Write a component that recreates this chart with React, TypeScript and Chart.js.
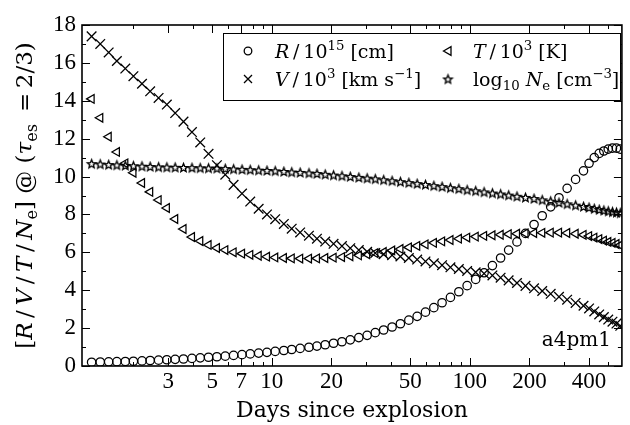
import React, { useEffect, useRef } from 'react';
import { Chart, registerables } from 'chart.js';

Chart.register(...registerables);

// ---- data ----
const DAYS = [
  1.23, 1.36, 1.5, 1.65, 1.82, 2.0, 2.21, 2.43, 2.68, 2.95,
  3.25, 3.58, 3.95, 4.35, 4.79, 5.28, 5.82, 6.41, 7.07, 7.78,
  8.58, 9.45, 10.4, 11.5, 12.6, 13.9, 15.4, 16.9, 18.6, 20.5,
  22.6, 24.9, 27.5, 30.3, 33.3, 36.7, 40.5, 44.6, 49.2, 54.2,
  59.7, 65.8, 72.4, 79.8, 88.0, 96.9, 107, 118, 130, 143,
  157, 173, 191, 211, 232, 256, 282, 310, 342, 375,
  400, 425, 450, 475, 500, 525, 550, 575,
];

const R_15 = [
  0.2, 0.21, 0.22, 0.23, 0.24, 0.25, 0.27, 0.29, 0.31, 0.33,
  0.35, 0.37, 0.4, 0.43, 0.46, 0.49, 0.52, 0.56, 0.6, 0.64,
  0.68, 0.72, 0.77, 0.82, 0.87, 0.93, 0.99, 1.05, 1.12, 1.2,
  1.28, 1.38, 1.5, 1.62, 1.76, 1.9, 2.06, 2.23, 2.42, 2.62,
  2.84, 3.08, 3.34, 3.62, 3.92, 4.24, 4.57, 4.92, 5.3, 5.7,
  6.12, 6.55, 7.0, 7.47, 7.93, 8.4, 8.88, 9.38, 9.85, 10.3,
  10.7, 11.0, 11.22, 11.35, 11.45, 11.5, 11.5, 11.45,
];

const V_3 = [
  17.4, 17.0, 16.55, 16.1, 15.7, 15.3, 14.9, 14.5, 14.15, 13.8,
  13.35, 12.9, 12.35, 11.8, 11.2, 10.6, 10.1, 9.56, 9.1, 8.68,
  8.3, 8.0, 7.75, 7.5, 7.25, 7.05, 6.88, 6.72, 6.57, 6.45,
  6.33, 6.22, 6.12, 6.03, 5.96, 5.9, 5.85, 5.78, 5.7, 5.62,
  5.52, 5.42, 5.32, 5.21, 5.12, 5.02, 4.95, 4.88, 4.78, 4.66,
  4.52, 4.38, 4.23, 4.1, 3.96, 3.81, 3.65, 3.5, 3.33, 3.18,
  3.04, 2.88, 2.72, 2.58, 2.45, 2.34, 2.24, 2.12,
];

const T_3 = [
  14.1, 13.1, 12.1, 11.3, 10.7, 10.2, 9.66, 9.19, 8.76, 8.34,
  7.76, 7.23, 6.81, 6.6, 6.39, 6.23, 6.12, 6.0, 5.93, 5.87,
  5.82, 5.77, 5.73, 5.7, 5.68, 5.67, 5.67, 5.68, 5.7, 5.72,
  5.75, 5.79, 5.84, 5.9, 5.96, 6.02, 6.1, 6.18, 6.26, 6.34,
  6.42, 6.5, 6.58, 6.65, 6.72, 6.78, 6.83, 6.87, 6.9, 6.93,
  6.96, 6.98, 7.0, 7.02, 7.03, 7.04, 7.04, 7.02, 6.98, 6.92,
  6.86, 6.78, 6.7, 6.62, 6.55, 6.5, 6.44, 6.38,
];

const LOG_NE = [
  10.68, 10.66, 10.63, 10.61, 10.59, 10.57, 10.55, 10.53, 10.51, 10.5,
  10.49, 10.48, 10.47, 10.46, 10.45, 10.44, 10.42, 10.4, 10.38, 10.36,
  10.34, 10.32, 10.3, 10.27, 10.24, 10.22, 10.19, 10.16, 10.12, 10.08,
  10.04, 10.0, 9.96, 9.92, 9.88, 9.83, 9.78, 9.73, 9.68, 9.63,
  9.58, 9.52, 9.47, 9.41, 9.36, 9.3, 9.25, 9.19, 9.13, 9.08,
  9.02, 8.96, 8.9, 8.84, 8.77, 8.7, 8.63, 8.56, 8.49, 8.42,
  8.37, 8.31, 8.26, 8.22, 8.18, 8.14, 8.11, 8.08,
];

const X_LABEL_TICKS = [3, 5, 7, 10, 20, 50, 100, 200, 400];
const X_MINOR_TICKS = [2, 4, 6, 8, 9, 30, 40, 60, 70, 80, 90, 300, 500];
const Y_MAJOR_TICKS = [0, 2, 4, 6, 8, 10, 12, 14, 16, 18];
const Y_MINOR_TICKS = [1, 3, 5, 7, 9, 11, 13, 15, 17];

const X_MIN = 1.1;
const X_MAX = 586;
const Y_MIN = 0;
const Y_MAX = 18;

// ---- rich text helpers ----
type Seg = { t: string; it?: boolean; sup?: boolean; sub?: boolean };
const FAM = '"DejaVu Serif", serif';
const TICK_FAM = '"Liberation Serif", serif';

function segFont(s: Seg, size: number) {
  const sz = s.sup || s.sub ? size * 0.7 : size;
  return `${s.it ? 'italic ' : ''}${sz}px ${FAM}`;
}
function richWidth(ctx: CanvasRenderingContext2D, segs: Seg[], size: number) {
  let w = 0;
  for (const s of segs) {
    ctx.font = segFont(s, size);
    w += ctx.measureText(s.t).width;
  }
  return w;
}
function drawRich(
  ctx: CanvasRenderingContext2D,
  segs: Seg[],
  x: number,
  y: number,
  size: number,
  align: 'left' | 'center' | 'right'
) {
  const w = richWidth(ctx, segs, size);
  let cx = align === 'left' ? x : align === 'center' ? x - w / 2 : x - w;
  ctx.textAlign = 'left';
  ctx.textBaseline = 'alphabetic';
  ctx.fillStyle = '#000';
  for (const s of segs) {
    ctx.font = segFont(s, size);
    const dy = s.sup ? -size * 0.4 : s.sub ? size * 0.22 : 0;
    ctx.fillText(s.t, cx, y + dy);
    cx += ctx.measureText(s.t).width;
  }
}

const TS = '\u2009';
const LEGEND_R: Seg[] = [{ t: 'R', it: true }, { t: `${TS}/${TS}10` }, { t: '15', sup: true }, { t: ' [cm]' }];
const LEGEND_V: Seg[] = [
  { t: 'V', it: true }, { t: `${TS}/${TS}10` }, { t: '3', sup: true },
  { t: ' [km s' }, { t: '\u22121', sup: true }, { t: ']' },
];
const LEGEND_T: Seg[] = [{ t: 'T', it: true }, { t: `${TS}/${TS}10` }, { t: '3', sup: true }, { t: ' [K]' }];
const LEGEND_NE: Seg[] = [
  { t: 'log' }, { t: '10', sub: true }, { t: ' ' }, { t: 'N', it: true }, { t: 'e', sub: true },
  { t: ' [cm' }, { t: '\u22123', sup: true }, { t: ']' },
];
const Y_TITLE: Seg[] = [
  { t: '[' }, { t: 'R', it: true }, { t: `${TS}/${TS}` }, { t: 'V', it: true }, { t: `${TS}/${TS}` },
  { t: 'T', it: true }, { t: `${TS}/${TS}` }, { t: 'N', it: true }, { t: 'e', sub: true }, { t: '] @ (' },
  { t: '\u03c4', it: true }, { t: 'es', sub: true }, { t: ` ${TS}=${TS}2/3)` },
];
const X_TITLE: Seg[] = [{ t: 'Days since explosion' }];
const MODEL_LABEL: Seg[] = [{ t: 'a4pm1' }];

function makeStar(r: number) {
  const c = document.createElement('canvas');
  const s = Math.ceil(r * 2 + 4);
  c.width = s;
  c.height = s;
  const g = c.getContext('2d')!;
  g.translate(s / 2, s / 2 + 0.5);
  g.beginPath();
  for (let i = 0; i < 10; i++) {
    const rr = i % 2 === 0 ? r : r * 0.45;
    const ang = -Math.PI / 2 + (i * Math.PI) / 5;
    const px = rr * Math.cos(ang);
    const py = rr * Math.sin(ang);
    if (i === 0) g.moveTo(px, py);
    else g.lineTo(px, py);
  }
  g.closePath();
  g.strokeStyle = '#000';
  g.lineWidth = 1.4;
  g.lineJoin = 'miter';
  g.stroke();
  return c;
}

function drawMarker(ctx: CanvasRenderingContext2D, kind: string, x: number, y: number, star: HTMLCanvasElement) {
  ctx.save();
  ctx.strokeStyle = '#000';
  ctx.lineWidth = 1.3;
  ctx.beginPath();
  if (kind === 'circle') {
    ctx.arc(x, y, 3.8, 0, Math.PI * 2);
    ctx.stroke();
  } else if (kind === 'cross') {
    ctx.moveTo(x - 4, y - 4);
    ctx.lineTo(x + 4, y + 4);
    ctx.moveTo(x + 4, y - 4);
    ctx.lineTo(x - 4, y + 4);
    ctx.stroke();
  } else if (kind === 'tri') {
    ctx.moveTo(x - 4.5, y);
    ctx.lineTo(x + 3, y - 4.3);
    ctx.lineTo(x + 3, y + 4.3);
    ctx.closePath();
    ctx.stroke();
  } else {
    ctx.drawImage(star, x - star.width / 2, y - star.height / 2);
  }
  ctx.restore();
}

export default function App() {
  const ref = useRef<HTMLCanvasElement>(null);

  useEffect(() => {
    const star = makeStar(4.4);
    const pts = (vals: number[]) => DAYS.map((d, i) => ({ x: d, y: vals[i] }));

    const decorPlugin = {
      id: 'decor',
      afterDatasetsDraw(chart: any) {
        const { ctx, chartArea: a, scales } = chart;
        const xs = scales.x;
        const ys = scales.y;
        ctx.save();
        ctx.strokeStyle = '#000';
        ctx.lineWidth = 1;
        ctx.beginPath();
        const yTick = (v: number, len: number) => {
          const py = Math.round(ys.getPixelForValue(v)) + 0.5;
          ctx.moveTo(a.left, py);
          ctx.lineTo(a.left + len, py);
          ctx.moveTo(a.right, py);
          ctx.lineTo(a.right - len, py);
        };
        const xTick = (v: number, len: number) => {
          const px = Math.round(xs.getPixelForValue(v)) + 0.5;
          ctx.moveTo(px, a.bottom);
          ctx.lineTo(px, a.bottom - len);
          ctx.moveTo(px, a.top);
          ctx.lineTo(px, a.top + len);
        };
        Y_MAJOR_TICKS.forEach((v) => yTick(v, 8));
        Y_MINOR_TICKS.forEach((v) => yTick(v, 4));
        X_LABEL_TICKS.forEach((v) => xTick(v, 8));
        X_MINOR_TICKS.forEach((v) => xTick(v, 4));
        ctx.stroke();
        ctx.lineWidth = 1.6;
        ctx.strokeRect(a.left, a.top, a.right - a.left, a.bottom - a.top);

        // legend
        const lx = 223, ly = 33, lw = 397, lh = 67;
        ctx.fillStyle = '#fff';
        ctx.fillRect(lx, ly, lw, lh);
        ctx.lineWidth = 1;
        ctx.strokeRect(lx + 0.5, ly + 0.5, lw, lh);
        const row1 = 51, row2 = 79, fs = 19;
        drawMarker(ctx, 'circle', 248, row1, star);
        drawMarker(ctx, 'cross', 248, row2, star);
        drawMarker(ctx, 'tri', 448, row1, star);
        drawMarker(ctx, 'star', 448, row2, star);
        drawRich(ctx, LEGEND_R, 275, row1 + 6.5, fs, 'left');
        drawRich(ctx, LEGEND_V, 275, row2 + 6.5, fs, 'left');
        drawRich(ctx, LEGEND_T, 473, row1 + 6.5, fs, 'left');
        drawRich(ctx, LEGEND_NE, 473, row2 + 6.5, fs, 'left');

        // model label
        drawRich(ctx, MODEL_LABEL, 611, 346, 20, 'right');

        // axis titles
        drawRich(ctx, X_TITLE, (a.left + a.right) / 2, 417, 22, 'center');
        ctx.save();
        ctx.translate(32, (a.top + a.bottom) / 2);
        ctx.rotate(-Math.PI / 2);
        drawRich(ctx, Y_TITLE, 0, 0, 23, 'center');
        ctx.restore();
        ctx.restore();
      },
    };

    const common = {
      showLine: false,
      borderColor: '#000',
      backgroundColor: 'rgba(0,0,0,0)',
      pointBorderColor: '#000',
      pointBackgroundColor: 'rgba(0,0,0,0)',
      pointBorderWidth: 1.25,
    };

    const chart = new Chart(ref.current!, {
      type: 'scatter',
      data: {
        datasets: [
          { ...common, label: 'R', data: pts(R_15), pointStyle: 'circle', pointRadius: 4.2 },
          { ...common, label: 'V', data: pts(V_3), pointStyle: 'crossRot', pointRadius: 6.8, pointBorderWidth: 1.3 },
          { ...common, label: 'T', data: pts(T_3), pointStyle: 'triangle', pointRotation: -90, pointRadius: 5 },
          { ...common, label: 'Ne', data: pts(LOG_NE), pointStyle: star as any, pointRadius: 4 },
        ] as any,
      },
      options: {
        animation: false,
        responsive: false,
        events: [],
        layout: { padding: { top: 25, right: 8, left: 0, bottom: 0 } },
        plugins: {
          legend: { display: false },
          tooltip: { enabled: false },
        },
        scales: {
          x: {
            type: 'logarithmic',
            min: X_MIN,
            max: X_MAX,
            grid: { display: false, drawTicks: false },
            border: { display: false },
            afterBuildTicks: (scale: any) => {
              scale.ticks = X_LABEL_TICKS.map((v) => ({ value: v }));
            },
            afterFit: (scale: any) => {
              scale.height = 59;
            },
            ticks: {
              autoSkip: false,
              maxRotation: 0,
              padding: 2,
              color: '#000',
              font: { family: TICK_FAM, size: 23 },
              callback: (v: any) => String(v),
            },
          },
          y: {
            type: 'linear',
            min: Y_MIN,
            max: Y_MAX,
            grid: { display: false, drawTicks: false },
            border: { display: false },
            afterFit: (scale: any) => {
              scale.width = 82;
            },
            ticks: {
              stepSize: 2,
              padding: 6,
              color: '#000',
              font: { family: TICK_FAM, size: 23 },
            },
          },
        },
      } as any,
      plugins: [decorPlugin],
    });
    return () => chart.destroy();
  }, []);

  return (
    <div style={{ position: 'fixed', left: 0, top: 0, width: 630, height: 425, background: '#fff' }}>
      <canvas ref={ref} width={630} height={425} />
    </div>
  );
}
